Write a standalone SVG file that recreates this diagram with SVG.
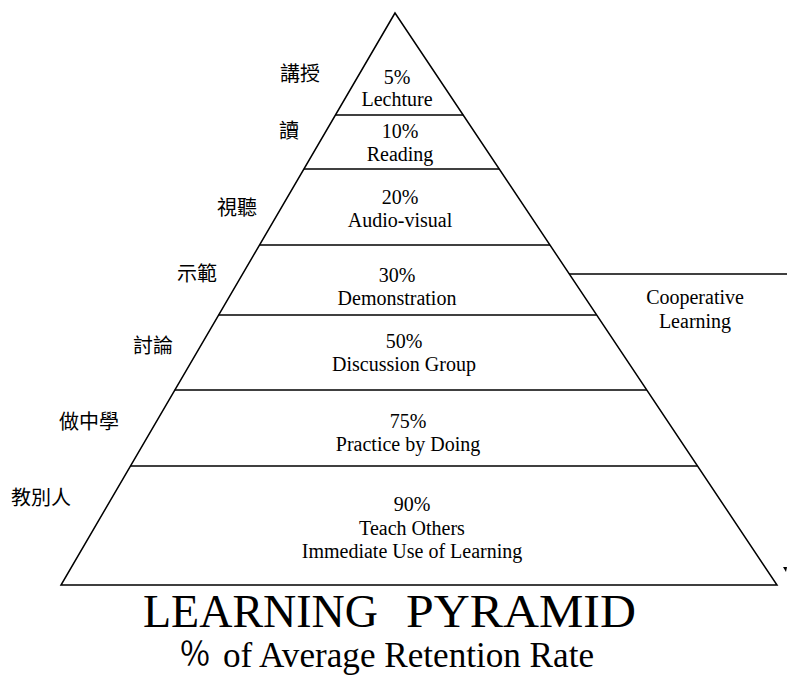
<svg xmlns="http://www.w3.org/2000/svg" width="787" height="675" viewBox="0 0 787 675">
<style>
.ln{stroke:#000;stroke-width:1.5;fill:none}
.t{font-family:"Liberation Serif","Times New Roman",serif;font-size:20px;fill:#000;text-anchor:middle}
.c{font-family:"Noto Sans CJK TC","Noto Sans CJK SC",sans-serif;font-size:20px;fill:#000}
.h{font-family:"Liberation Serif","Times New Roman",serif;fill:#000}
</style>
<rect width="787" height="675" fill="#fff"/>
<g id="connectors">
<polygon class="ln" points="395,13 61,585 777,585"/>
<line class="ln" x1="335.4" y1="115" x2="463.1" y2="115"/>
<line class="ln" x1="303.9" y1="169" x2="499.2" y2="169"/>
<line class="ln" x1="259.5" y1="245" x2="550" y2="245"/>
<line class="ln" x1="218.6" y1="315" x2="596.7" y2="315"/>
<line class="ln" x1="174.8" y1="390" x2="646.8" y2="390"/>
<line class="ln" x1="130.4" y1="466" x2="697.6" y2="466"/>
<line class="ln" x1="569" y1="274" x2="787" y2="274"/>
<polygon points="783,567 787,567 786,572" fill="#000"/>
</g>
<g id="lecture"><text class="t" x="397" y="84">5%</text><text class="t" x="397" y="106">Lechture</text><text class="c" x="280" y="81">講授</text></g>
<g id="reading"><text class="t" x="400" y="138">10%</text><text class="t" x="400" y="161">Reading</text><text class="c" x="279" y="138">讀</text></g>
<g id="audiovisual"><text class="t" x="400" y="204">20%</text><text class="t" x="400" y="227">Audio-visual</text><text class="c" x="217" y="215">視聽</text></g>
<g id="demonstration"><text class="t" x="397" y="282">30%</text><text class="t" x="397" y="305">Demonstration</text><text class="c" x="177" y="281">示範</text></g>
<g id="discussion"><text class="t" x="404" y="348">50%</text><text class="t" x="404" y="371">Discussion Group</text><text class="c" x="133" y="353">討論</text></g>
<g id="practice"><text class="t" x="408" y="428">75%</text><text class="t" x="408" y="451">Practice by Doing</text><text class="c" x="59" y="429">做中學</text></g>
<g id="teach"><text class="t" x="412" y="511">90%</text><text class="t" x="412" y="535">Teach Others</text><text class="t" x="412" y="558">Immediate Use of Learning</text><text class="c" x="11" y="505">教別人</text></g>
<g id="cooperative"><text class="t" x="695" y="304">Cooperative</text><text class="t" x="695" y="328">Learning</text></g>
<g id="title">
<text class="h" x="143" y="627" font-size="46" textLength="235" lengthAdjust="spacingAndGlyphs">LEARNING</text>
<text class="h" x="406" y="627" font-size="46" textLength="230" lengthAdjust="spacingAndGlyphs">PYRAMID</text>
<text class="h" x="179" y="665" font-size="32" style="font-family:'Noto Sans CJK TC',sans-serif">％</text>
<text class="h" x="223" y="667" font-size="35" textLength="371" lengthAdjust="spacingAndGlyphs">of Average Retention Rate</text>
</g>
</svg>
